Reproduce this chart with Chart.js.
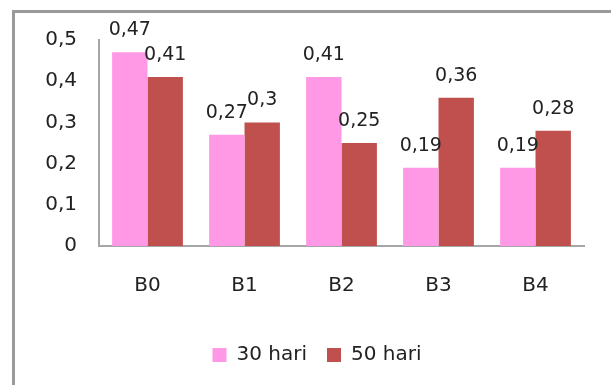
<!DOCTYPE html>
<html>
<head>
<meta charset="utf-8">
<script src="https://cdn.jsdelivr.net/npm/chart.js@4"></script>
<style>
  html, body { margin: 0; padding: 0; background: #ffffff; }
  #wrap { width: 611px; height: 385px; position: relative; }
</style>
</head>
<body>
<div id="wrap"><canvas id="c" width="611" height="385"></canvas></div>
<script>
const categories = ['B0', 'B1', 'B2', 'B3', 'B4'];
const seriesNames = ['30 hari', '50 hari'];
const hari30 = [0.47, 0.27, 0.41, 0.19, 0.19];
const hari50 = [0.41, 0.30, 0.25, 0.36, 0.28];
const yTicks = [0, 0.1, 0.2, 0.3, 0.4, 0.5];

const FONT = "'DejaVu Sans', sans-serif";
const TEXT = '#222222';

const fmt = v => (v === 0 ? '0' : String(v).replace('.', ','));

// legend sits a little right of centre, under the middle of the panel
const legendShift = {
  id: 'legendShift',
  afterLayout(chart) {
    const lg = chart.legend;
    if (lg) { lg.left += 18; lg.right += 18; }
  }
};

// white panel with a grey frame running off the right and bottom edges
const framePlugin = {
  id: 'frame',
  beforeDraw(chart) {
    const ctx = chart.ctx;
    ctx.save();
    ctx.fillStyle = '#ffffff';
    ctx.fillRect(0, 0, chart.width, chart.height);
    ctx.strokeStyle = '#9a9a9a';
    ctx.lineWidth = 3;
    ctx.strokeRect(13.5, 11.5, 700, 500);
    ctx.restore();
  }
};

// value labels above each bar
const valueLabels = {
  id: 'valueLabels',
  afterDatasetsDraw(chart) {
    const ctx = chart.ctx;
    ctx.save();
    ctx.font = '19px ' + FONT;
    ctx.fillStyle = TEXT;
    ctx.textAlign = 'center';
    ctx.textBaseline = 'middle';
    chart.data.datasets.forEach((ds, i) => {
      chart.getDatasetMeta(i).data.forEach((bar, j) => {
        ctx.fillText(fmt(ds.data[j]), bar.x, bar.y - 22);
      });
    });
    ctx.restore();
  }
};

new Chart(document.getElementById('c'), {
  type: 'bar',
  data: {
    labels: categories,
    datasets: [
      { label: seriesNames[0], data: hari30, backgroundColor: '#ff99e6',
        categoryPercentage: 0.73, barPercentage: 1.0 },
      { label: seriesNames[1], data: hari50, backgroundColor: '#c0504d',
        categoryPercentage: 0.73, barPercentage: 1.0 }
    ]
  },
  options: {
    responsive: false,
    animation: false,
    devicePixelRatio: 1,
    layout: { padding: { left: 14, right: 27, top: 40, bottom: 10 } },
    plugins: {
      legend: {
        position: 'bottom',
        labels: {
          boxWidth: 14, boxHeight: 14, padding: 20,
          color: TEXT, font: { family: FONT, size: 20 }
        }
      },
      tooltip: { enabled: false }
    },
    scales: {
      x: {
        grid: { display: false, drawTicks: false },
        border: { display: true, color: '#a6a6a6', width: 2 },
        ticks: { color: TEXT, font: { family: FONT, size: 20 }, padding: 28 },
        afterFit(s) { s.height = 79; }
      },
      y: {
        min: 0, max: 0.5,
        afterBuildTicks(s) { s.ticks = yTicks.map(v => ({ value: v })); },
        grid: { display: false, drawTicks: false },
        border: { display: true, color: '#a6a6a6', width: 2 },
        ticks: { color: TEXT, font: { family: FONT, size: 20 }, padding: 22,
                 callback: v => fmt(v) },
        afterFit(s) { s.width = 85; }
      }
    }
  },
  plugins: [framePlugin, legendShift, valueLabels]
});
</script>
</body>
</html>
